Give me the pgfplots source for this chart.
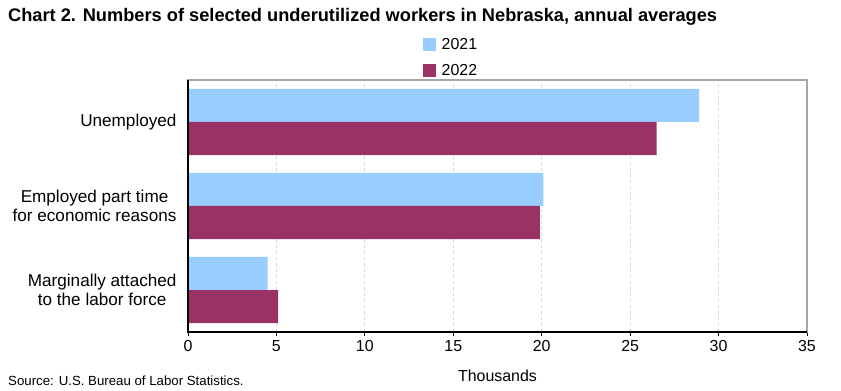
\documentclass[border=0pt]{standalone}
\usepackage{pgfplots}
\pgfplotsset{compat=1.18}
\usepackage{fontspec}
\setmainfont{Liberation Sans}
\definecolor{c2021}{HTML}{99CCFF}
\definecolor{c2022}{HTML}{993366}
\definecolor{gridc}{HTML}{D9D9D9}
\definecolor{boxc}{HTML}{A6A6A6}
\begin{document}
\begin{tikzpicture}
\useasboundingbox (-188bp,-59bp) rectangle (653bp,332bp);
\begin{axis}[
  scale only axis,
  width=619bp, height=252bp,
  xmin=0, xmax=35,
  ymin=-0.5, ymax=2.5,
  xtick={0,5,...,35},
  ytick={0,1,2},
  yticklabels={{Marginally attached\\to the labor force},{Employed part time\\for economic reasons},{Unemployed}},
  xbar,
  bar width=33bp,
  axis line style={boxc, line width=1.2bp},
  xmajorgrids,
  major grid style={gridc, dashed, line width=0.8bp},
  xtick pos=bottom,
  tick align=outside,
  x tick style={black, line width=0.8bp},
  major tick length=4bp,
  y tick style={draw=none},
  ytick pos=left,
  tick label style={font=\fontsize{16}{18}\selectfont},
  /pgf/number format/assume math mode=true,
  yticklabel style={align=center, anchor=east, xshift=-4bp, font=\fontsize{17.2}{18.5}\selectfont},
  xticklabel style={yshift=-1bp},
  xlabel={Thousands},
  xlabel style={font=\fontsize{16}{18}\selectfont, at={(axis description cs:0.5,0)}, anchor=center, yshift=-44bp},
  legend style={draw=none, fill=none, at={(rel axis cs:0.378,1)}, anchor=south west,
    font=\fontsize{16}{18}\selectfont, row sep=9bp, inner sep=1bp,
    nodes={inner sep=2.5bp}, yshift=-1bp},
  legend cell align=left,
  legend image code/.code={\fill[#1,draw=none] (0bp,-6.5bp) rectangle (13bp,6.5bp);},
  legend style={/tikz/every odd column/.append style={column sep=3bp}},
  clip=false,
]
\addplot[fill=c2021, draw=none, bar shift=16.5bp] coordinates {(4.5,0) (20.1,1) (28.9,2)};
\addplot[fill=c2022, draw=none, bar shift=-16.5bp] coordinates {(5.1,0) (19.9,1) (26.5,2)};
\legend{2021,2022}
\draw[black, line width=1.2bp] (rel axis cs:0,1) -- (rel axis cs:0,0) -- (rel axis cs:1,0);
\end{axis}
\node[anchor=west, font=\bfseries\fontsize{18.3}{20}\selectfont, inner sep=0pt] at (-180bp,315bp) {Chart 2. Numbers of selected underutilized workers in Nebraska, annual averages};
\node[anchor=west, font=\fontsize{13.3}{15}\selectfont, inner sep=0pt] at (-180bp,-49bp) {Source: U.S. Bureau of Labor Statistics.};
\end{tikzpicture}
\end{document}
